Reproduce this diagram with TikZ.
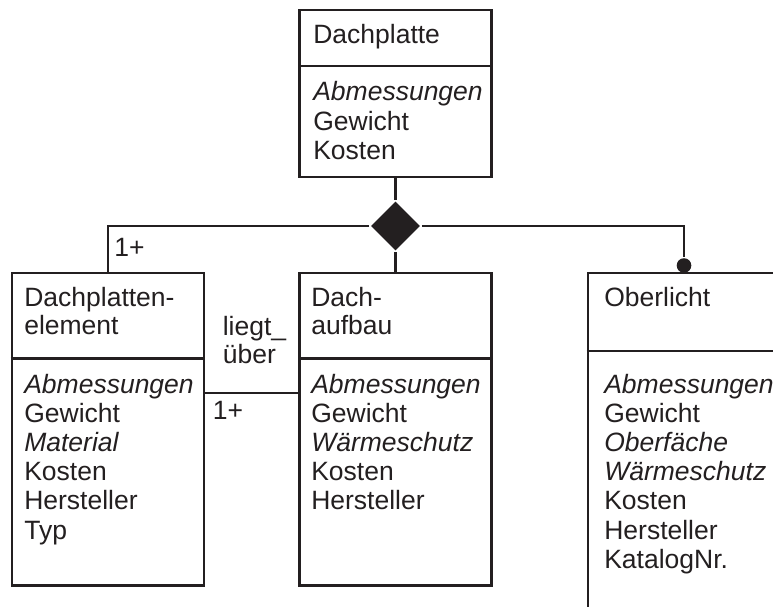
\documentclass[tikz,border=0pt]{standalone}
\usepackage{fontspec}
\setmainfont{Liberation Sans}
\usetikzlibrary{shapes.geometric}
\definecolor{ink}{RGB}{35,31,32}
\begin{document}
\begin{tikzpicture}[x=1pt,y=-1pt,line width=2.6pt,draw=ink,
  umlbox/.style={draw=ink,minimum width=192pt,inner sep=0pt},
  lbl/.style={anchor=base west,inner sep=0pt,text=ink,font=\fontsize{26.5}{29}\selectfont},
  agg/.style={diamond,fill=ink,minimum width=50pt,minimum height=50pt,inner sep=0pt},
  knob/.style={circle,fill=ink,minimum size=14.6pt,inner sep=0pt}]
\clip (0,0) rectangle (773,607);

% class boxes
\node[umlbox,minimum height=167pt] (dp) at (395.5,93.5) {};
\node[umlbox,minimum height=312.5pt] (dpe) at (107.9,429.3) {};
\node[umlbox,minimum height=312.5pt] (dau) at (395.5,429.3) {};
\node[umlbox,minimum height=400pt] (obl) at (684,473) {};

% compartment dividers
\coordinate (dpdiv) at (0,66);
\coordinate (lowdiv) at (0,358.5);
\coordinate (obldiv) at (0,351);
\draw (dp.west |- dpdiv) -- (dp.east |- dpdiv);
\draw (dpe.west |- lowdiv) -- (dpe.east |- lowdiv);
\draw (dau.west |- lowdiv) -- (dau.east |- lowdiv);
\draw (obl.west |- obldiv) -- (obl.east |- obldiv);

% aggregation
\node[agg] (dia) at (395.5,226) {};
\node[knob] (dot) at (684,265.5) {};
\draw (dp.south) -- (dia.north);
\draw (dia.south) -- (dau.north);
\draw (dia.west) -| (dpe.north);
\draw (dia.east) -| (dot.north);

% association between element and build-up
\coordinate (lu) at (0,393);
\draw (dpe.east |- lu) -- (dau.west |- lu);

% texts: Dachplatte
\node[lbl] (dp-name) at (312,44) {Dachplatte};
\foreach \t [count=\i from 0] in {\textit{Abmessungen},Gewicht,Kosten}
  \node[lbl] (dp-row\i) at (312,{101+29.2*\i}) {\t};

% texts: Dachplattenelement
\node[lbl] (dpe-name1) at (23,306) {Dachplatten-};
\node[lbl] (dpe-name2) at (23,334) {element};
\foreach \t [count=\i from 0] in {\textit{Abmessungen},Gewicht,\textit{Material},Kosten,Hersteller,Typ}
  \node[lbl] (dpe-row\i) at (23,{393+29.2*\i}) {\t};

% texts: Dachaufbau
\node[lbl] (dau-name1) at (310,306) {Dach-};
\node[lbl] (dau-name2) at (310,334) {aufbau};
\foreach \t [count=\i from 0] in {\textit{Abmessungen},Gewicht,\textit{Wärmeschutz},Kosten,Hersteller}
  \node[lbl] (dau-row\i) at (310,{393+29.2*\i}) {\t};

% texts: Oberlicht
\node[lbl] (obl-name) at (603,306) {Oberlicht};
\foreach \t [count=\i from 0] in {\textit{Abmessungen},Gewicht,\textit{Oberfäche},\textit{Wärmeschutz},Kosten,Hersteller,KatalogNr.}
  \node[lbl] (obl-row\i) at (603,{393+29.2*\i}) {\t};

% association labels and multiplicities
\node[lbl] (assoc1) at (221.5,335) {liegt\_};
\node[lbl] (assoc2) at (221.5,363) {über};
\node[lbl] (mult-top) at (113,256) {1+};
\node[lbl] (mult-assoc) at (211.5,419) {1+};
\end{tikzpicture}
\end{document}
